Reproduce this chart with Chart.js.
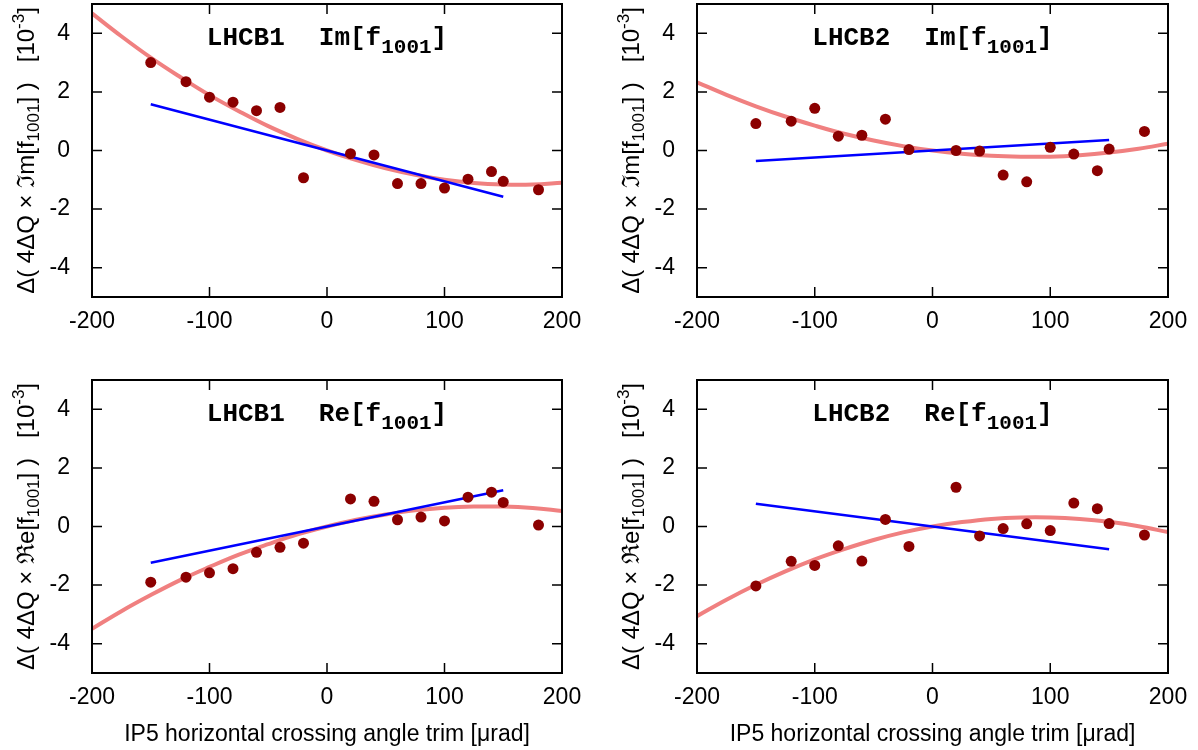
<!DOCTYPE html>
<html>
<head>
<meta charset="utf-8">
<script src="https://cdn.jsdelivr.net/npm/chart.js@4.4.1/dist/chart.umd.min.js"></script>
<style>
  html, body { margin: 0; padding: 0; background: #fff; }
  #wrap { position: relative; width: 1198px; height: 750px; overflow: hidden; }
  .panel { position: absolute; }
</style>
</head>
<body>
<div id="wrap">
  <div class="panel" style="left:0;top:-30px;width:598px;height:375px"><canvas id="b1im"></canvas></div>
  <div class="panel" style="left:598px;top:-30px;width:600px;height:375px"><canvas id="b2im"></canvas></div>
  <div class="panel" style="left:0;top:345px;width:598px;height:405px"><canvas id="b1re"></canvas></div>
  <div class="panel" style="left:598px;top:345px;width:600px;height:405px"><canvas id="b2re"></canvas></div>
</div>
<script>
// crossing angle trims [urad] of the measured points
const trimX = [-150, -120, -100, -80, -60, -40, -20, 20, 40, 60, 80, 100, 120, 140, 150, 180];

// measured change, 10^-3
const b1Im = [3.0, 2.35, 1.82, 1.65, 1.36, 1.47, -0.93, -0.11, -0.15, -1.13, -1.13, -1.28, -0.98, -0.72, -1.05, -1.34];
const b2Im = [0.92, 1.0, 1.44, 0.49, 0.52, 1.07, 0.03, 0.0, -0.02, -0.84, -1.07, 0.11, -0.12, -0.69, 0.05, 0.65];
const b1Re = [-1.90, -1.73, -1.58, -1.44, -0.88, -0.71, -0.57, 0.94, 0.86, 0.23, 0.32, 0.19, 1.0, 1.17, 0.82, 0.05];
const b2Re = [-2.03, -1.19, -1.33, -0.66, -1.18, 0.24, -0.68, 1.34, -0.32, -0.07, 0.09, -0.14, 0.80, 0.61, 0.10, -0.29];

// fitted curve
const fitX = [-200, -175, -150, -125, -100, -75, -50, -25, 0, 25, 50, 75, 100, 125, 150, 175, 200];
const b1ImFit = [4.68, 3.90, 3.17, 2.51, 1.89, 1.34, 0.83, 0.39, 0, -0.33, -0.61, -0.83, -1.00, -1.11, -1.16, -1.16, -1.10];
const b2ImFit = [2.33, 1.90, 1.51, 1.16, 0.85, 0.57, 0.34, 0.15, 0, -0.11, -0.18, -0.21, -0.21, -0.16, -0.07, 0.06, 0.23];
const b1ReFit = [-3.49, -2.89, -2.34, -1.83, -1.38, -0.96, -0.60, -0.27, 0, 0.23, 0.41, 0.55, 0.64, 0.68, 0.68, 0.63, 0.53];
const b2ReFit = [-3.06, -2.50, -1.99, -1.53, -1.12, -0.77, -0.46, -0.20, 0, 0.15, 0.26, 0.31, 0.31, 0.26, 0.16, 0.01, -0.19];

// linear model
const lineX = [-150, 150];
const b1ImLine = [1.58, -1.58];
const b2ImLine = [-0.36, 0.36];
const b1ReLine = [-1.24, 1.24];
const b2ReLine = [0.78, -0.78];

const SANS = '"Liberation Sans", Arial, sans-serif';
const MONO = '"Liberation Mono", "Courier New", monospace';

const toXY = (xs, ys) => xs.map((x, i) => ({ x: x, y: ys[i] }));

// draw a row of text pieces centred on (cx, base)
function drawRuns(ctx, runs, cx, base) {
    let total = 0;
    runs.forEach(r => {
        if (r.gap) { total += r.gap; return; }
        ctx.font = r.font;
        r.w = ctx.measureText(r.t).width;
        total += r.w;
    });
    let x = cx - total / 2;
    ctx.textAlign = 'left';
    ctx.textBaseline = 'alphabetic';
    runs.forEach(r => {
        if (r.gap) { x += r.gap; return; }
        ctx.font = r.font;
        ctx.fillText(r.t, x, base + (r.dy || 0));
        x += r.w;
    });
}

const framePlugin = {
    id: 'frame',
    afterDraw(chart) {
        const { ctx, chartArea: a, scales: { x, y } } = chart;
        const o = chart.options.plugins.frame;
        ctx.save();
        ctx.strokeStyle = '#000';
        ctx.fillStyle = '#000';

        ctx.lineWidth = 1.5;
        ctx.beginPath();
        x.ticks.forEach(t => {
            const px = x.getPixelForValue(t.value);
            const len = t.value % 100 === 0 ? 10 : 6;
            ctx.moveTo(px, a.bottom); ctx.lineTo(px, a.bottom - len);
            ctx.moveTo(px, a.top); ctx.lineTo(px, a.top + len);
        });
        y.ticks.forEach(t => {
            const py = y.getPixelForValue(t.value);
            const len = t.value % 2 === 0 ? 10 : 6;
            ctx.moveTo(a.left, py); ctx.lineTo(a.left + len, py);
            ctx.moveTo(a.right, py); ctx.lineTo(a.right - len, py);
        });
        ctx.stroke();
        ctx.lineWidth = 2;
        ctx.strokeRect(a.left, a.top, a.right - a.left, a.bottom - a.top);

        // panel title
        drawRuns(ctx, [
            { t: o.beam, font: 'bold 26px ' + MONO },
            { gap: 34 },
            { t: o.part + '[f', font: 'bold 26px ' + MONO },
            { t: '1001', font: 'bold 21px ' + MONO, dy: 8 },
            { t: ']', font: 'bold 26px ' + MONO }
        ], (a.left + a.right) / 2, a.top + 41);

        // y axis title
        ctx.save();
        ctx.translate(a.left - 58, (a.top + a.bottom) / 2);
        ctx.rotate(-Math.PI / 2);
        const sym = o.part === 'Im' ? '\u2111m' : '\u211Ce';
        drawRuns(ctx, [
            { t: '\u0394( 4\u0394Q \u00D7 ' + sym + '[f', font: '24px ' + SANS },
            { t: '1001', font: '17px ' + SANS, dy: 5 },
            { t: '] )   [10', font: '24px ' + SANS },
            { t: '-3', font: '17px ' + SANS, dy: -10 },
            { t: ']', font: '24px ' + SANS }
        ], 0, 0);
        ctx.restore();

        if (o.xTitle) {
            ctx.font = '23px ' + SANS;
            ctx.textAlign = 'center';
            ctx.textBaseline = 'alphabetic';
            ctx.fillText('IP5 horizontal crossing angle trim [\u03BCrad]', (a.left + a.right) / 2, a.bottom + 68);
        }
        ctx.restore();
    }
};

function makePanel(id, beam, part, pts, fit, line, pad, yWidth, xTitle) {
    new Chart(document.getElementById(id), {
        type: 'scatter',
        data: {
            datasets: [
                {
                    data: toXY(trimX, pts),
                    pointRadius: 5.5,
                    pointBackgroundColor: '#8b0000',
                    pointBorderWidth: 0
                },
                {
                    data: toXY(lineX, line),
                    showLine: true,
                    pointRadius: 0,
                    borderColor: '#0000ff',
                    borderWidth: 2.5
                },
                {
                    data: toXY(fitX, fit),
                    showLine: true,
                    pointRadius: 0,
                    borderColor: '#f08080',
                    borderWidth: 4,
                    tension: 0.4
                }
            ]
        },
        options: {
            responsive: true,
            maintainAspectRatio: false,
            animation: false,
            layout: { padding: pad },
            plugins: {
                legend: { display: false },
                tooltip: { enabled: false },
                frame: { beam: beam, part: part, xTitle: xTitle }
            },
            scales: {
                x: {
                    type: 'linear',
                    min: -200,
                    max: 200,
                    ticks: {
                        stepSize: 50,
                        autoSkip: false,
                        maxRotation: 0,
                        padding: 3,
                        color: '#000',
                        font: { family: SANS, size: 23 },
                        callback: v => (v % 100 === 0 ? v : null)
                    },
                    grid: { display: false },
                    border: { display: false },
                    afterFit(s) { s.height = 40; }
                },
                y: {
                    min: -5,
                    max: 5,
                    ticks: {
                        stepSize: 1,
                        autoSkip: false,
                        padding: 14,
                        color: '#000',
                        font: { family: SANS, size: 23 },
                        callback: v => (v % 2 === 0 ? v : null)
                    },
                    grid: { display: false },
                    border: { display: false },
                    afterFit(s) { s.width = yWidth; }
                }
            }
        },
        plugins: [framePlugin]
    });
}

makePanel('b1im', 'LHCB1', 'Im', b1Im, b1ImFit, b1ImLine, { top: 34, right: 36, bottom: 8, left: 0 }, 92, false);
makePanel('b2im', 'LHCB2', 'Im', b2Im, b2ImFit, b2ImLine, { top: 34, right: 30, bottom: 8, left: 0 }, 99, false);
makePanel('b1re', 'LHCB1', 'Re', b1Re, b1ReFit, b1ReLine, { top: 35, right: 36, bottom: 37, left: 0 }, 92, true);
makePanel('b2re', 'LHCB2', 'Re', b2Re, b2ReFit, b2ReLine, { top: 35, right: 30, bottom: 37, left: 0 }, 99, true);
</script>
</body>
</html>
